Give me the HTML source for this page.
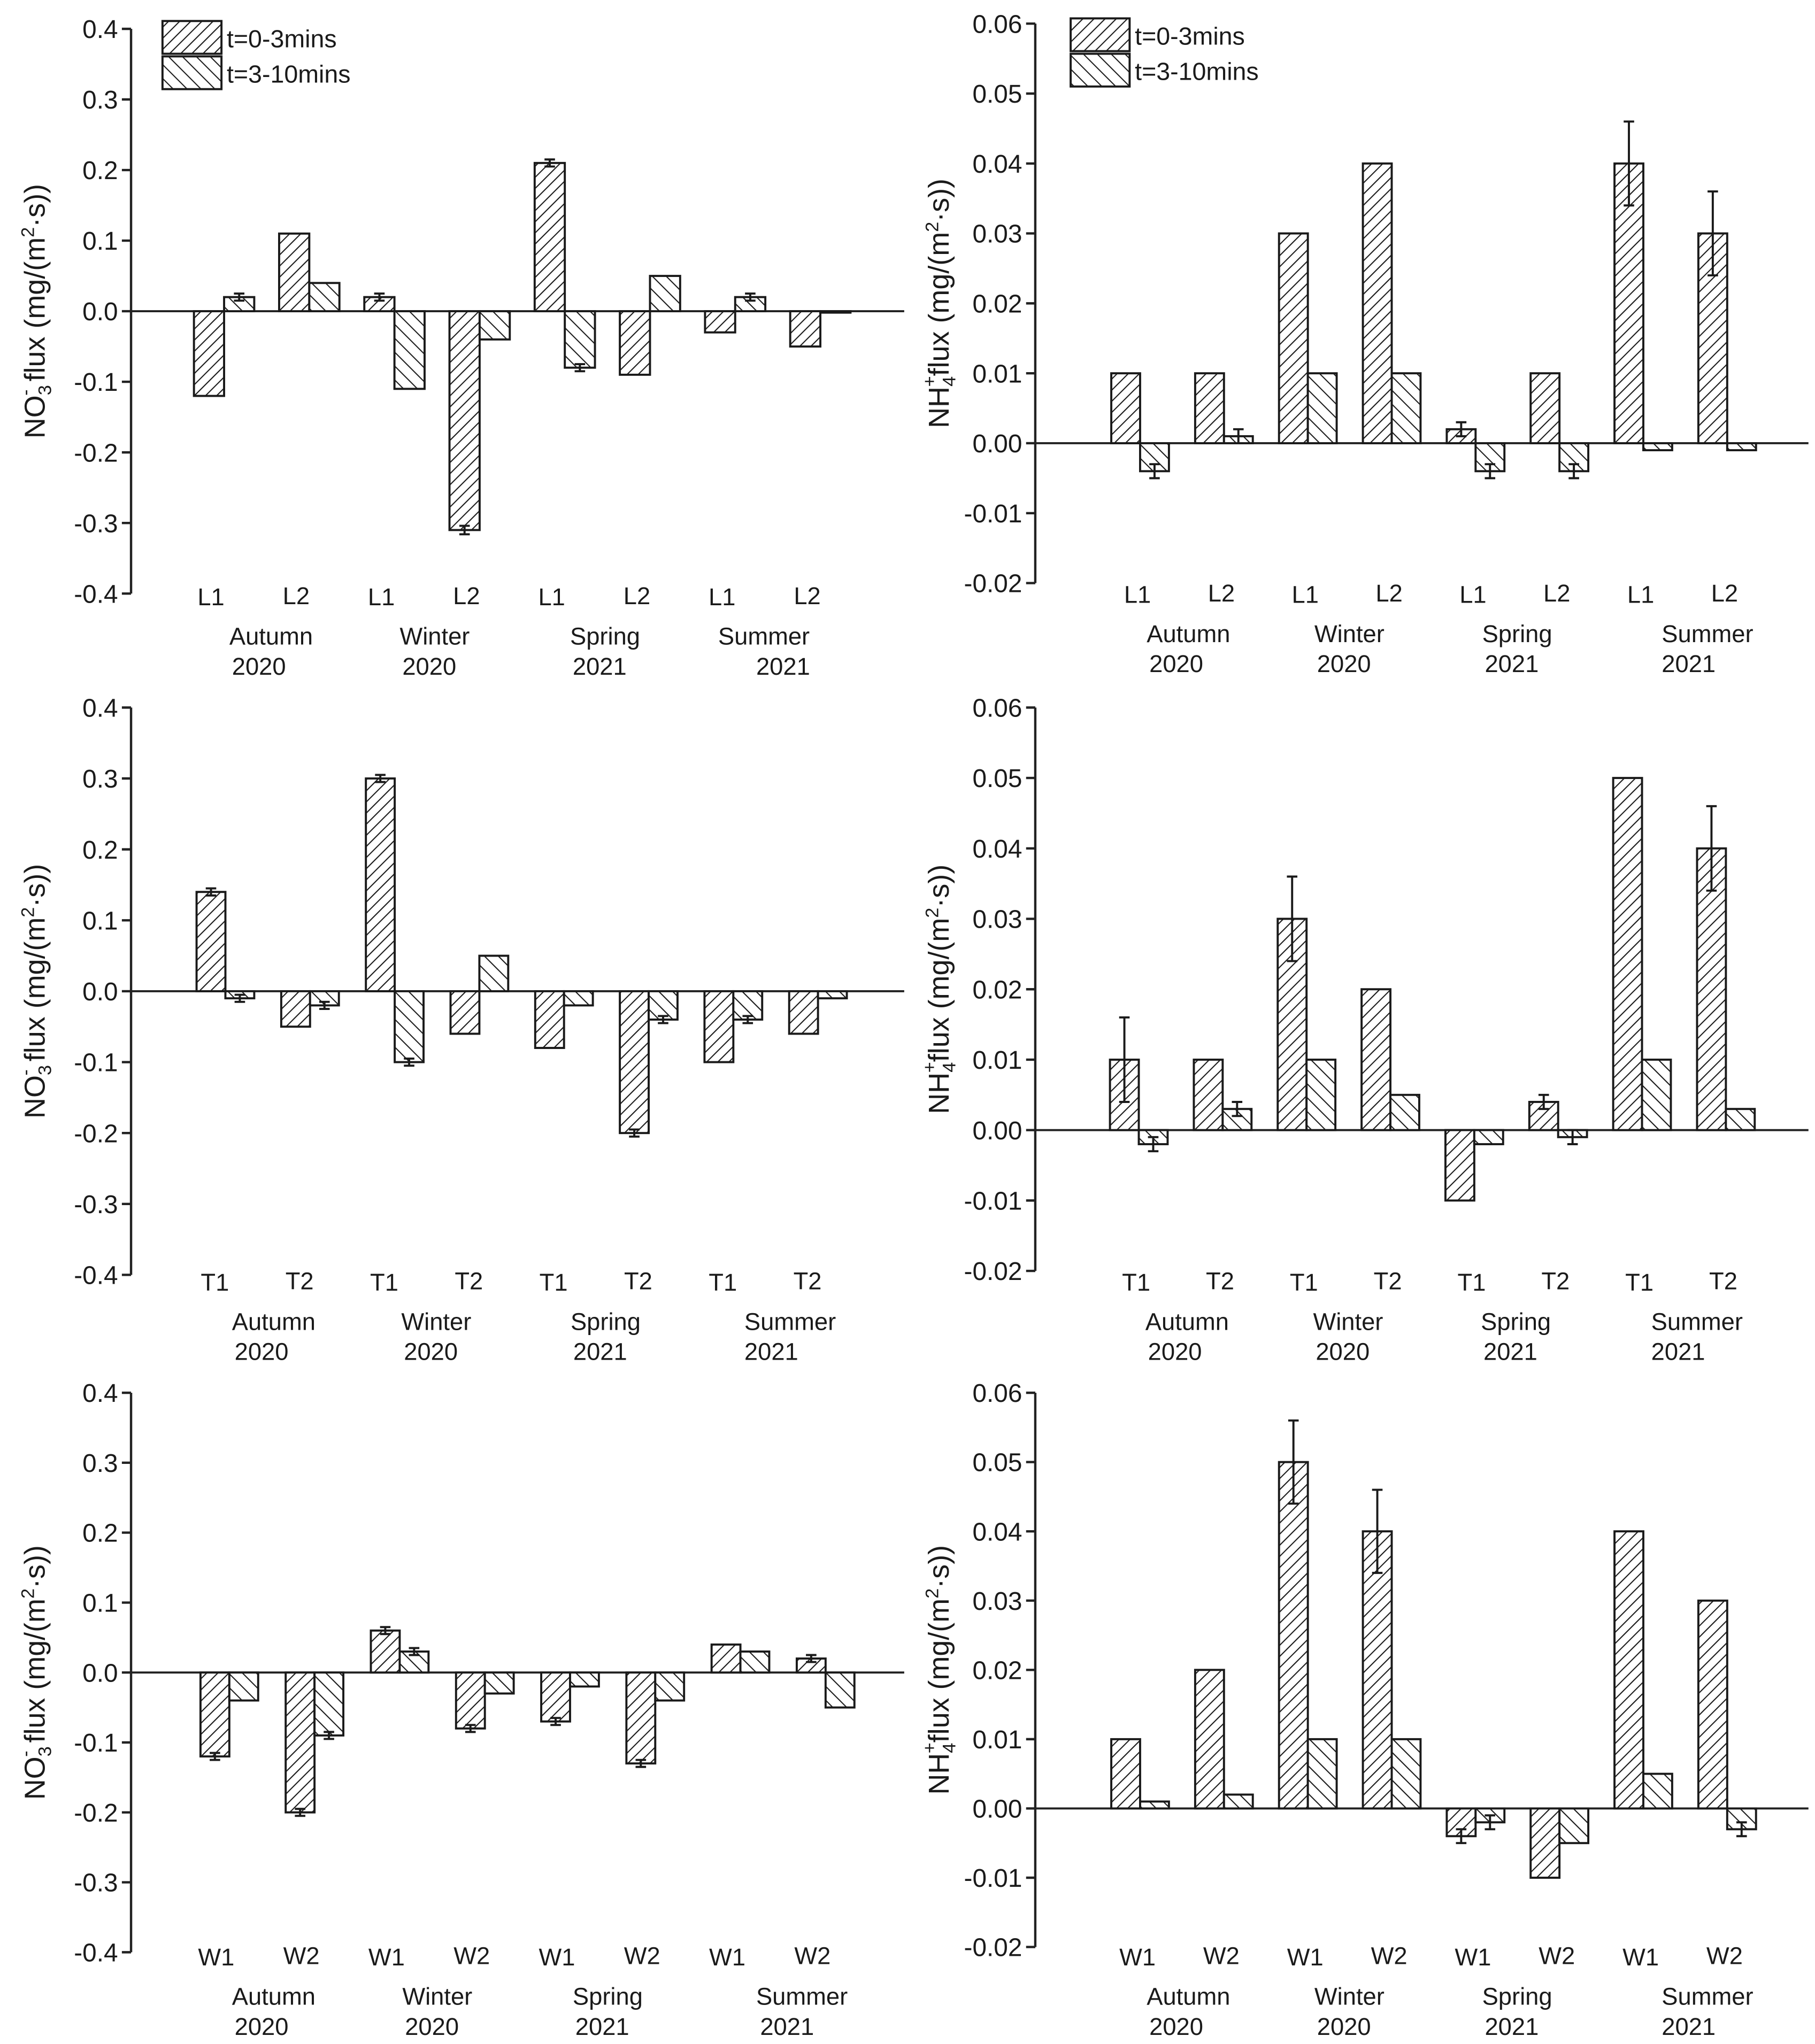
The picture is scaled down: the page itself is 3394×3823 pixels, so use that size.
<!DOCTYPE html>
<html><head><meta charset="utf-8"><style>
html,body{margin:0;padding:0;background:#fff}
svg{display:block}
text{font-family:"Liberation Sans",Arial,sans-serif;fill:#1a1a1a}
</style></head><body>
<svg id="fig" xmlns="http://www.w3.org/2000/svg" width="3394" height="3823" viewBox="0 0 1385 1560">
<defs>
<pattern id="h1" patternUnits="userSpaceOnUse" width="6" height="6" patternTransform="rotate(45)"><rect width="6" height="6" fill="#fff"/><line x1="0" y1="0" x2="0" y2="6" stroke="#1a1a1a" stroke-width="1.7"/></pattern>
<pattern id="h2" patternUnits="userSpaceOnUse" width="7.5" height="7.5" patternTransform="rotate(-45)"><rect width="7.5" height="7.5" fill="#fff"/><line x1="0" y1="0" x2="0" y2="7.5" stroke="#1a1a1a" stroke-width="1.7"/></pattern>
</defs>
</svg>
<script>
// ---- data ----
var seasons = ["Autumn|2020","Winter|2020","Spring|2021","Summer|2021"];
var catsL = ["L1","L2","L1","L2","L1","L2","L1","L2"];
var catsT = ["T1","T2","T1","T2","T1","T2","T1","T2"];
var catsW = ["W1","W2","W1","W2","W1","W2","W1","W2"];
var ticksNO3 = ["-0.4","-0.3","-0.2","-0.1","0.0","0.1","0.2","0.3","0.4"];
var ticksNH4 = ["-0.02","-0.01","0.00","0.01","0.02","0.03","0.04","0.05","0.06"];
// NO3 - L
var no3L_a = [-0.12,0.11,0.02,-0.31,0.21,-0.09,-0.03,-0.05];
var no3L_aErr = [0,0,0.005,0.006,0.005,0,0,0];
var no3L_b = [0.02,0.04,-0.11,-0.04,-0.08,0.05,0.02,-0.002];
var no3L_bErr = [0.005,0,0,0,0.005,0,0.005,0];
// NH4 - L
var nh4L_a = [0.01,0.01,0.03,0.04,0.002,0.01,0.04,0.03];
var nh4L_aErr = [0,0,0,0,0.001,0,0.006,0.006];
var nh4L_b = [-0.004,0.001,0.01,0.01,-0.004,-0.004,-0.001,-0.001];
var nh4L_bErr = [0.001,0.001,0,0,0.001,0.001,0,0];
// NO3 - T
var no3T_a = [0.14,-0.05,0.30,-0.06,-0.08,-0.20,-0.10,-0.06];
var no3T_aErr = [0.005,0,0.005,0,0,0.005,0,0];
var no3T_b = [-0.01,-0.02,-0.10,0.05,-0.02,-0.04,-0.04,-0.01];
var no3T_bErr = [0.005,0.005,0.005,0,0,0.005,0.005,0];
// NH4 - T
var nh4T_a = [0.01,0.01,0.03,0.02,-0.01,0.004,0.05,0.04];
var nh4T_aErr = [0.006,0,0.006,0,0,0.001,0,0.006];
var nh4T_b = [-0.002,0.003,0.01,0.005,-0.002,-0.001,0.01,0.003];
var nh4T_bErr = [0.001,0.001,0,0,0,0.001,0,0];
// NO3 - W
var no3W_a = [-0.12,-0.20,0.06,-0.08,-0.07,-0.13,0.04,0.02];
var no3W_aErr = [0.005,0.005,0.005,0.005,0.005,0.005,0,0.005];
var no3W_b = [-0.04,-0.09,0.03,-0.03,-0.02,-0.04,0.03,-0.05];
var no3W_bErr = [0,0.005,0.005,0,0,0,0,0];
// NH4 - W
var nh4W_a = [0.01,0.02,0.05,0.04,-0.004,-0.01,0.04,0.03];
var nh4W_aErr = [0,0,0.006,0.006,0.001,0,0,0];
var nh4W_b = [0.001,0.002,0.01,0.01,-0.002,-0.005,0.005,-0.003];
var nh4W_bErr = [0,0,0,0,0.001,0,0,0.001];

var NS="http://www.w3.org/2000/svg";
var svg=document.getElementById('fig');
function mk(tag,attrs,parent){var e=document.createElementNS(NS,tag);for(var k in attrs)e.setAttribute(k,attrs[k]);(parent||svg).appendChild(e);return e;}

function panel(o){
  var g=mk('g',{});
  
  
  var ticks=o.ticks, nT=ticks.length;
  var vmin=parseFloat(ticks[0]), vmax=parseFloat(ticks[nT-1]);
  function y(v){return o.yTop+(vmax-v)/(vmax-vmin)*(o.yBot-o.yTop);}
  function xs(i){return o.x0+i*o.step;}
  var ax=mk('line',{x1:o.ax,y1:o.yTop,x2:o.ax,y2:o.yBot,stroke:'#222','stroke-width':1.8},g);
  
  
  for(var t=0;t<nT;t++){
    var v=parseFloat(ticks[t]);var yy=y(v);
    var tk=mk('line',{x1:o.ax-7,y1:yy,x2:o.ax,y2:yy,stroke:'#222','stroke-width':1.8},g);
    
    
    var tl=mk('text',{x:o.ax-10,y:yy+7,'text-anchor':'end','font-size':19.5},g);
    tl.textContent=ticks[t];
    
    
  }
  var zl=mk('line',{x1:o.ax,y1:y(0),x2:o.xEnd,y2:y(0),stroke:'#222','stroke-width':1.6},g);
  
  
  var w=o.bw;
  function bar(i,v,err,pat,nm,dx){
    var x=xs(i)+dx, y0=y(0), yv=y(v);
    var r=mk('rect',{x:x,y:Math.min(y0,yv),width:w,height:Math.max(Math.abs(yv-y0),0.8),fill:'url(#'+pat+')',stroke:'#1a1a1a','stroke-width':1.6},g);
    
    
    if(err>0){
      var cx=x+w/2,y1=y(v+err),y2=y(v-err);
      var eb=mk('path',{d:'M'+cx+' '+y1+'V'+y2+'M'+(cx-4)+' '+y1+'H'+(cx+4)+'M'+(cx-4)+' '+y2+'H'+(cx+4),stroke:'#1a1a1a','stroke-width':1.6,fill:'none'},g);
      
      
    }
  }
  for(var i=0;i<o.a.length;i++){
    bar(i,o.a[i],o.aErr[i],'h1','bar-t0-3-'+o.cats[i].toLowerCase(),0);
    bar(i,o.b[i],o.bErr[i],'h2','bar-t3-10-'+o.cats[i].toLowerCase(),w);
    var cl=mk('text',{x:xs(i)+w+o.lblDx,y:o.lblY+(i%2?-1:0),'text-anchor':'middle','font-size':18.5},g);
    cl.textContent=o.cats[i];
    
    
  }
  for(var s=0;s<seasons.length;s++){
    var parts=seasons[s].split('|');
    var sx=xs(2*s)+w+o.seasDx, yx=sx+2;
    if(s==3){sx=o.sumX;yx=o.sumYrX;}
    var t1=mk('text',{x:sx,y:o.lblY+30,'font-size':18.5},g);
    t1.textContent=parts[0];
    
    
    var t2=mk('text',{x:yx,y:o.lblY+53,'font-size':18.5},g);
    t2.textContent=parts[1];
    
    
  }
  var cy=(o.yTop+o.yBot)/2;
  var tt=mk('text',{x:0,y:0,'text-anchor':'middle','font-size':22,transform:'translate('+(o.ax-66)+','+cy+') rotate(-90)'},g);
  
  
  if(o.ion=='NO3'){
    tt.innerHTML='NO<tspan font-size="14" dy="5">3</tspan><tspan font-size="14" dx="-8" dy="-15">-</tspan><tspan dy="10"> flux (mg/(m</tspan><tspan font-size="14" dy="-8">2</tspan><tspan dy="8">·s))</tspan>';
  } else {
    tt.innerHTML='NH<tspan font-size="14" dy="5">4</tspan><tspan font-size="14" dx="-8" dy="-15">+</tspan><tspan dy="10">flux (mg/(m</tspan><tspan font-size="14" dy="-8">2</tspan><tspan dy="8">·s))</tspan>';
  }
  if(o.legend){
    var L=o.legend;
    var r1=mk('rect',{x:L.x,y:L.y,width:45,height:25,fill:'url(#h1)',stroke:'#1a1a1a','stroke-width':1.6},g);
    
    
    var r2=mk('rect',{x:L.x,y:L.y+27,width:45,height:25,fill:'url(#h2)',stroke:'#1a1a1a','stroke-width':1.6},g);
    
    
    var l1=mk('text',{x:L.x+49,y:L.y+20,'font-size':19},g);l1.textContent='t=0-3mins';
    
    
    var l2=mk('text',{x:L.x+49,y:L.y+47,'font-size':19},g);l2.textContent='t=3-10mins';
    
    
  }
}

panel({name:'no3-flux-l-panel',ion:'NO3',ticks:ticksNO3,ax:100,xEnd:690,yTop:22,yBot:453,x0:148,step:65,bw:23,cats:catsL,a:no3L_a,aErr:no3L_aErr,b:no3L_b,bErr:no3L_bErr,lblY:462,lblDx:-10,seasDx:4,sumX:548,sumYrX:577,legend:{x:124,y:16}});
panel({name:'nh4-flux-l-panel',ion:'NH4',ticks:ticksNH4,ax:790,xEnd:1380,yTop:18,yBot:445,x0:848,step:64,bw:22,cats:catsL,a:nh4L_a,aErr:nh4L_aErr,b:nh4L_b,bErr:nh4L_bErr,lblY:460,lblDx:-2,seasDx:5,sumX:1268,sumYrX:1268,legend:{x:817,y:14}});
panel({name:'no3-flux-t-panel',ion:'NO3',ticks:ticksNO3,ax:100,xEnd:690,yTop:540,yBot:973,x0:150,step:64.6,bw:22,cats:catsT,a:no3T_a,aErr:no3T_aErr,b:no3T_b,bErr:no3T_bErr,lblY:985,lblDx:-8,seasDx:5,sumX:568,sumYrX:568});
panel({name:'nh4-flux-t-panel',ion:'NH4',ticks:ticksNH4,ax:790,xEnd:1380,yTop:540,yBot:970,x0:847,step:64,bw:22,cats:catsT,a:nh4T_a,aErr:nh4T_aErr,b:nh4T_b,bErr:nh4T_bErr,lblY:985,lblDx:-2,seasDx:5,sumX:1260,sumYrX:1260});
panel({name:'no3-flux-w-panel',ion:'NO3',ticks:ticksNO3,ax:100,xEnd:690,yTop:1063,yBot:1490,x0:153,step:65,bw:22,cats:catsW,a:no3W_a,aErr:no3W_aErr,b:no3W_b,bErr:no3W_bErr,lblY:1500,lblDx:-10,seasDx:2,sumX:577,sumYrX:580});
panel({name:'nh4-flux-w-panel',ion:'NH4',ticks:ticksNH4,ax:790,xEnd:1380,yTop:1063,yBot:1486,x0:848,step:64,bw:22,cats:catsW,a:nh4W_a,aErr:nh4W_aErr,b:nh4W_b,bErr:nh4W_bErr,lblY:1500,lblDx:-2,seasDx:5,sumX:1268,sumYrX:1268});
</script>
</body></html>
